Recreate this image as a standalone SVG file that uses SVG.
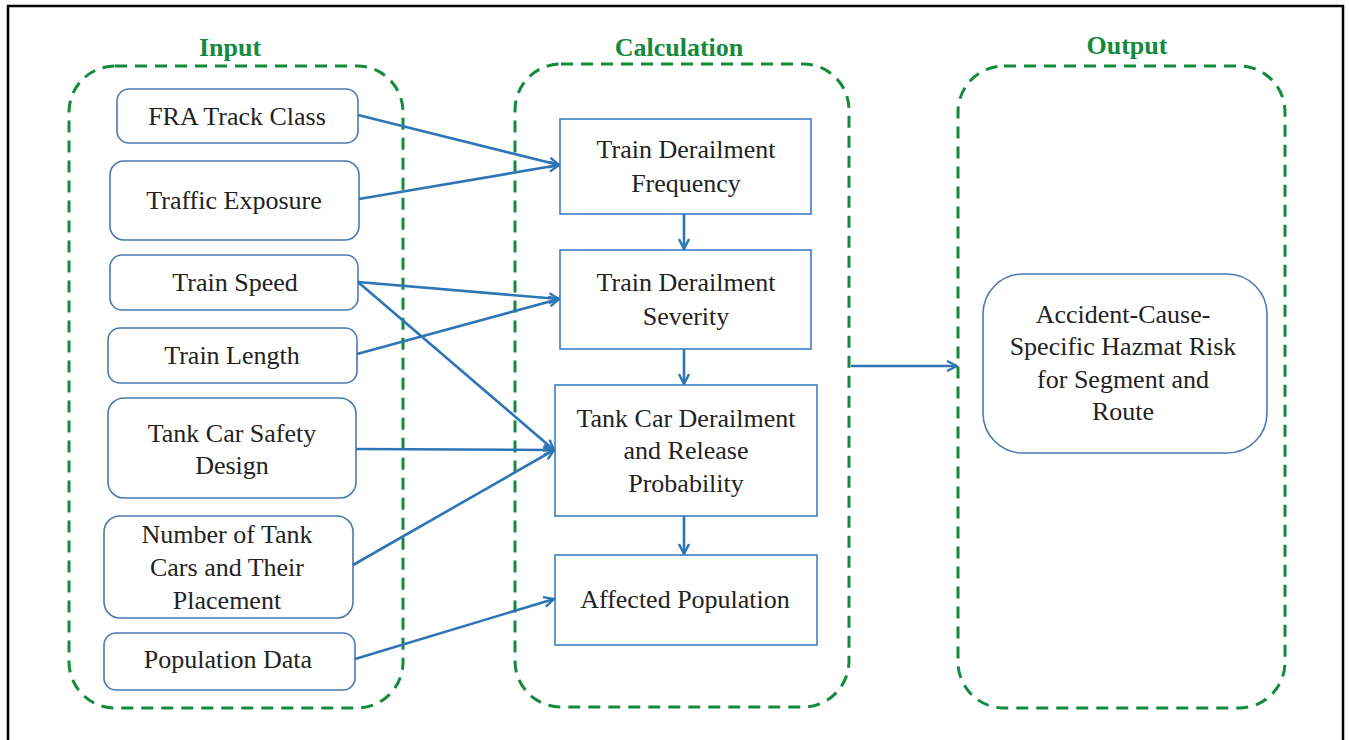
<svg xmlns="http://www.w3.org/2000/svg" width="1349" height="740" viewBox="0 0 1349 740">
<style>
.frame{fill:#fff;stroke:#000;stroke-width:2.5}
.grp{fill:none;stroke:#138a3c;stroke-width:3;stroke-dasharray:12 8}
.ttl{font-family:"Liberation Serif",serif;font-weight:bold;font-size:26px;fill:#138a3c;text-anchor:middle}
.in{fill:#fff;stroke:#4a78b2;stroke-width:1.6}
.calc{fill:#fff;stroke:#3b7fc4;stroke-width:1.6}
.t{font-family:"Liberation Serif",serif;font-size:26px;fill:#222;text-anchor:middle}
.c{fill:none;stroke:#2e75b6;stroke-width:2.6;marker-end:url(#ah)}
</style>
<defs>
<marker id="ah" viewBox="0 0 12 12" refX="11" refY="6" markerWidth="12" markerHeight="12" markerUnits="userSpaceOnUse" orient="auto">
<path d="M1,1 L11,6 L1,11" fill="none" stroke="#2e75b6" stroke-width="2.4"/>
</marker>
</defs>
<rect x="8" y="6" width="1335" height="745" class="frame"/>
<g id="groups">
<rect x="69" y="66" width="334" height="642" rx="46" class="grp"/>
<rect x="515" y="64" width="334" height="643" rx="46" class="grp"/>
<rect x="958" y="66" width="327" height="642" rx="46" class="grp"/>
<text x="230" y="56" class="ttl">Input</text>
<text x="679" y="56" class="ttl">Calculation</text>
<text x="1127" y="54" class="ttl">Output</text>
</g>
<g id="n-fra"><rect x="117" y="89" width="241" height="54" rx="12" class="in"/><text x="237" y="125" class="t">FRA Track Class</text></g>
<g id="n-traffic"><rect x="110" y="161" width="249" height="79" rx="14" class="in"/><text x="234" y="209" class="t">Traffic Exposure</text></g>
<g id="n-speed"><rect x="110" y="255" width="248" height="55" rx="12" class="in"/><text x="235" y="291" class="t">Train Speed</text></g>
<g id="n-length"><rect x="108" y="328" width="249" height="55" rx="12" class="in"/><text x="232" y="364" class="t">Train Length</text></g>
<g id="n-tankdesign"><rect x="108" y="398" width="248" height="100" rx="16" class="in"/><text x="232" y="442" class="t">Tank Car Safety</text><text x="232" y="474" class="t">Design</text></g>
<g id="n-number"><rect x="104" y="516" width="249" height="102" rx="16" class="in"/><text x="227" y="543" class="t">Number of Tank</text><text x="227" y="576" class="t">Cars and Their</text><text x="227" y="609" class="t">Placement</text></g>
<g id="n-popdata"><rect x="104" y="633" width="251" height="57" rx="12" class="in"/><text x="228" y="668" class="t">Population Data</text></g>
<g id="n-freq"><rect x="560" y="119" width="251" height="95" class="calc"/><text x="686" y="158" class="t">Train Derailment</text><text x="686" y="192" class="t">Frequency</text></g>
<g id="n-sev"><rect x="560" y="250" width="251" height="99" class="calc"/><text x="686" y="291" class="t">Train Derailment</text><text x="686" y="325" class="t">Severity</text></g>
<g id="n-prob"><rect x="555" y="385" width="262" height="131" class="calc"/><text x="686" y="427" class="t">Tank Car Derailment</text><text x="686" y="459" class="t">and Release</text><text x="686" y="492" class="t">Probability</text></g>
<g id="n-affected"><rect x="555" y="555" width="262" height="90" class="calc"/><text x="685" y="608" class="t">Affected Population</text></g>
<g id="n-risk"><rect x="983" y="274" width="284" height="179" rx="40" class="in"/><text x="1123" y="323" class="t">Accident-Cause-</text><text x="1123" y="355" class="t">Specific Hazmat Risk</text><text x="1123" y="388" class="t">for Segment and</text><text x="1123" y="420" class="t">Route</text></g>
<g id="connectors">
<line x1="358" y1="115" x2="559" y2="165" class="c"/>
<line x1="359" y1="199" x2="559" y2="165" class="c"/>
<line x1="358" y1="282" x2="559" y2="299" class="c"/>
<line x1="357" y1="354" x2="559" y2="299" class="c"/>
<line x1="358" y1="282" x2="554" y2="450" class="c"/>
<line x1="356" y1="449" x2="554" y2="450" class="c"/>
<line x1="353" y1="565" x2="554" y2="450" class="c"/>
<line x1="355" y1="659" x2="554" y2="599" class="c"/>
<line x1="684" y1="214" x2="684" y2="249" class="c"/>
<line x1="684" y1="349" x2="684" y2="384" class="c"/>
<line x1="684" y1="516" x2="684" y2="554" class="c"/>
<line x1="851" y1="366" x2="957" y2="366" class="c"/>
</g>
</svg>
